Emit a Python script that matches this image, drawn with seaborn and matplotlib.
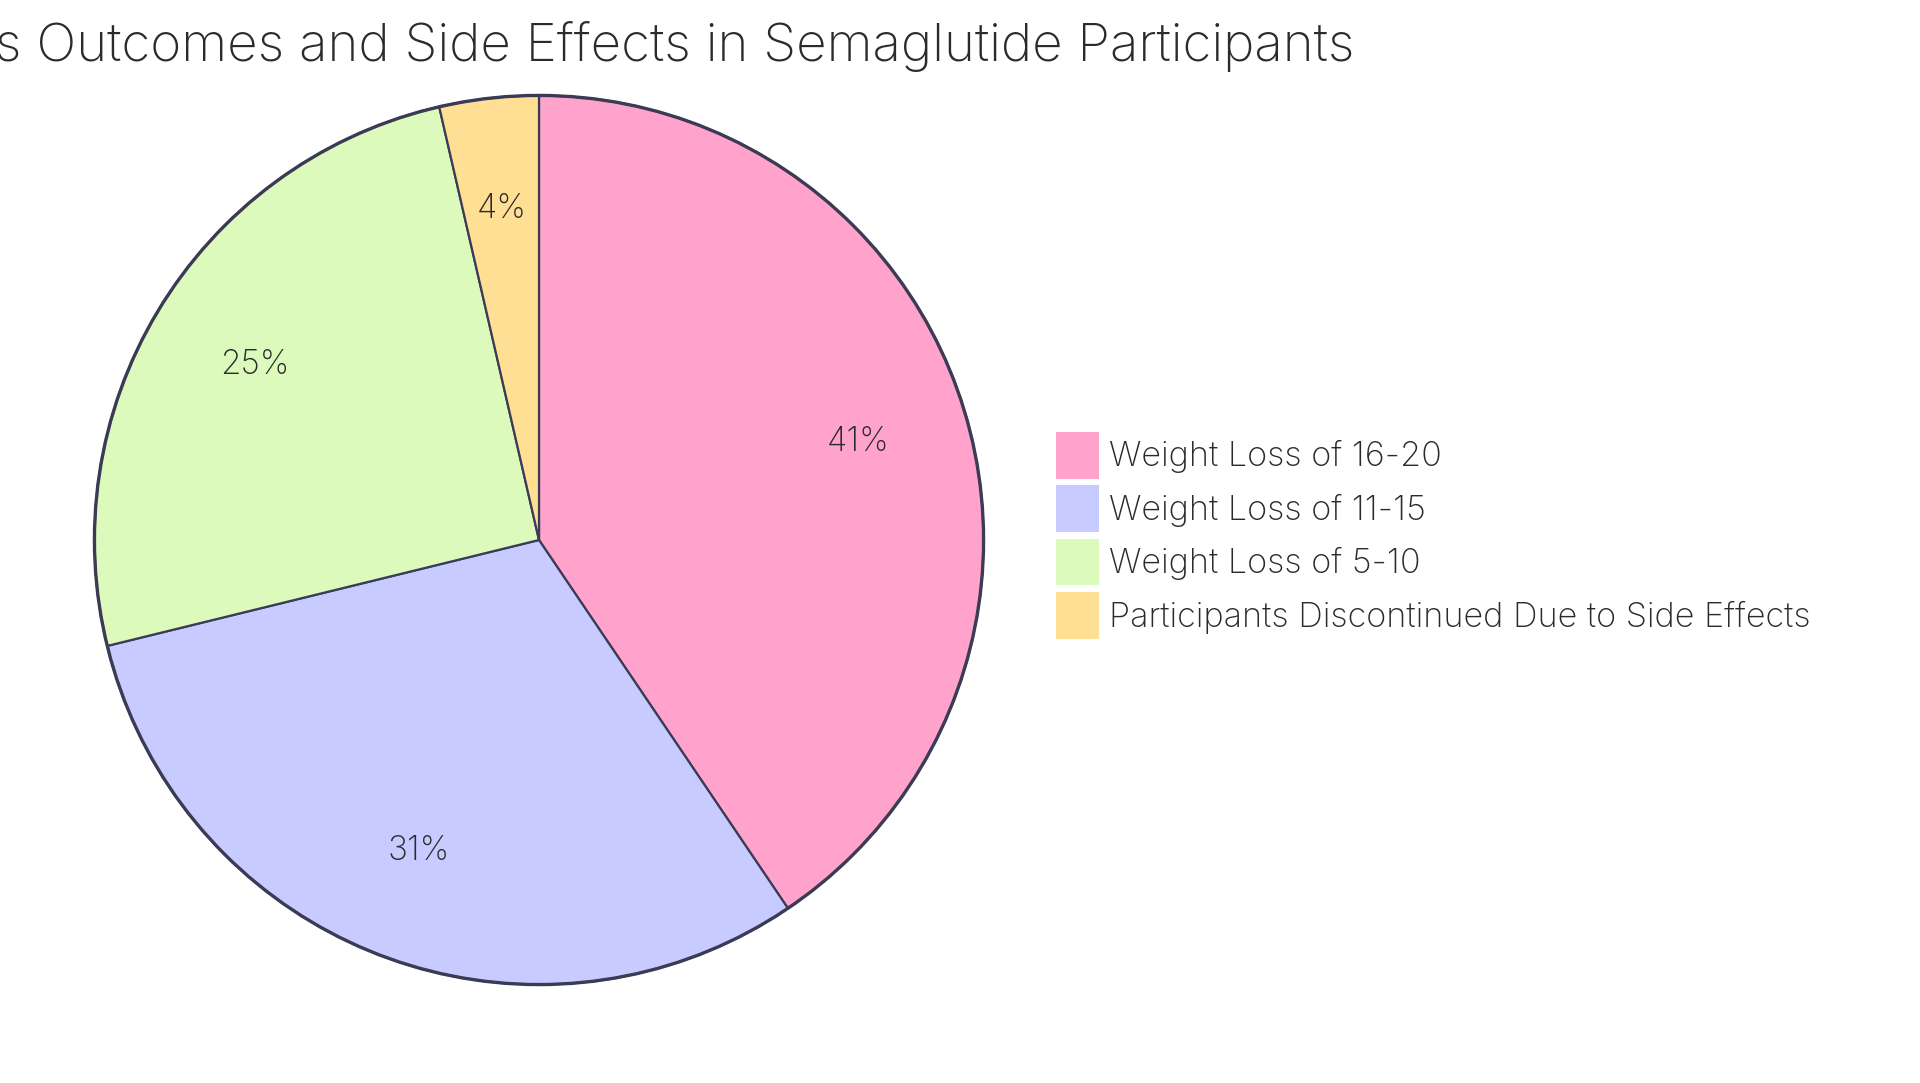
import matplotlib
matplotlib.use("Agg")
import matplotlib.pyplot as plt
import seaborn as sns

# data
title = "Weight Loss Outcomes and Side Effects in Semaglutide Participants"
labels = [
    "Weight Loss of 16-20",
    "Weight Loss of 11-15",
    "Weight Loss of 5-10",
    "Participants Discontinued Due to Side Effects",
]
values = [45, 34, 28, 4]
colors = ["#FFA3CD", "#C8CBFF", "#DCFABC", "#FFDF94"]

sns.set_theme(style="white")
plt.rcParams["font.family"] = ["Inter", "DejaVu Sans"]
plt.rcParams["font.weight"] = "light"

W, H = 1920, 1083
fig = plt.figure(figsize=(W / 100, H / 100), dpi=100)
fig.patch.set_facecolor("white")

# pie: centre and radius in px
cx, cy, r = 539, 540, 449
ax = fig.add_axes([(cx - r) / W, (H - cy - r) / H, 2 * r / W, 2 * r / H])

wedges, texts, autotexts = ax.pie(
    values,
    colors=colors,
    startangle=90,
    counterclock=False,
    autopct=lambda p: f"{p:.0f}%",
    pctdistance=0.75,
    wedgeprops=dict(edgecolor="#3B3B55", linewidth=1.6),
    textprops=dict(color="#2B2B2B", fontsize=24),
    radius=1,
)
# thicker outer rim
ax.add_patch(plt.Circle((0, 0), 1, fill=False, edgecolor="#3B3B55", linewidth=2.4))
ax.set_xlim(-1.01, 1.01)
ax.set_ylim(-1.01, 1.01)
ax.set_aspect("equal")
ax.axis("off")

fig.text(cx / W, 1 - 47 / H, title, ha="center", va="center",
         fontsize=38, color="#2B2B2B")

fig.legend(
    wedges, labels,
    loc="upper left",
    bbox_to_anchor=(1056 / W, 1 - 432 / H),
    frameon=False,
    fontsize=24.6,
    labelcolor="#2B2B2B",
    handlelength=1.26,
    handleheight=1.72,
    handletextpad=0.29,
    labelspacing=0.2,
    borderpad=0,
    borderaxespad=0,
)
# legend boxes without outline
for h in fig.legends[0].legend_handles:
    h.set_edgecolor("none")

fig.savefig("out.png", dpi=100, facecolor="white")
